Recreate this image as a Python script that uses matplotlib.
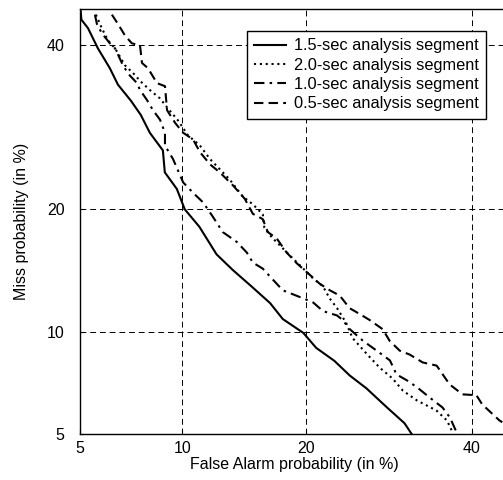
import numpy as np
import matplotlib
matplotlib.use('Agg')
from matplotlib import pyplot as plt
from statistics import NormalDist

# DET curves (false alarm % vs miss %)
fa_15 = [5.02, 5.05, 5.3, 5.69, 6.19, 6.55, 7.16, 7.65, 8.12, 8.84, 8.95, 9.66, 10.15, 11.1, 12.3,
         13.5, 15.0, 16.6, 17.75, 19.7, 21.0, 22.9, 24.6, 26.5, 28.9, 31.1, 32.0]
miss_15 = [45.0, 43.5, 42.3, 39.5, 36.8, 34.6, 32.5, 30.7, 28.5, 26.4, 23.9, 22.1, 20.0, 18.3, 15.8,
           14.5, 13.2, 11.96, 10.86, 9.97, 9.06, 8.33, 7.55, 6.92, 6.07, 5.41, 5.0]

fa_20 = [5.61, 5.85, 6.11, 6.42, 6.87, 7.35, 7.61, 8.12, 8.68, 9.14, 9.74, 10.35, 11.14, 11.83,
         12.53, 13.28, 14.3, 15.12, 15.96, 16.1, 16.76, 17.47, 18.41, 19.7, 20.7, 21.7, 22.4,
         23.2, 24.2, 24.9, 26.6, 28.06, 29.6, 30.9, 32.7, 35.2, 36.6, 37.4]
miss_20 = [44.2, 42.3, 40.6, 39.5, 37.2, 35.9, 35.1, 33.9, 32.8, 31.5, 30.0, 28.2, 26.97, 25.4,
           24.25, 23.1, 21.3, 20.5, 19.5, 18.2, 17.3, 16.6, 15.7, 14.6, 13.8, 13.2, 12.3,
           11.6, 10.6, 9.65, 8.68, 7.96, 7.41, 6.81, 6.36, 5.93, 5.52, 5.04]

fa_10 = [5.57, 5.65, 5.85, 6.19, 6.42, 6.73, 7.01, 7.46, 7.61, 7.97, 8.29, 8.68, 8.96, 8.96,
         9.43, 10.05, 10.68, 11.35, 12.04, 12.75, 13.82, 14.62, 15.12, 15.96, 16.76, 17.75,
         18.7, 19.7, 20.7, 21.7, 23.2, 23.8, 24.6, 26.1, 27.7, 29.3, 30.1, 31.4, 32.7, 34.3,
         36.0, 37.0, 38.0]
miss_10 = [44.2, 42.9, 41.6, 40.2, 39.5, 37.5, 36.1, 34.8, 33.9, 32.6, 31.3, 30.1, 28.5, 26.97,
           25.4, 22.8, 21.7, 20.7, 19.25, 17.8, 16.9, 15.96, 15.1, 14.6, 13.8, 12.9,
           12.6, 12.3, 12.0, 11.4, 11.1, 10.8, 10.2, 9.48, 8.9, 8.35, 7.61, 7.31, 6.97, 6.5,
           6.06, 5.64, 5.0]

fa_05 = [6.28, 6.55, 6.87, 7.2, 7.61, 7.71, 8.02, 8.51, 8.96, 9.08, 9.56, 10.05, 10.68, 11.14,
         11.83, 12.53, 13.51, 14.46, 15.12, 15.96, 16.4, 17.2, 18.1, 19.07, 20.07, 21.36,
         22.42, 23.49, 24.58, 25.72, 26.86, 28.42, 29.26, 30.5, 31.74, 33.42, 35.24, 36.04,
         36.96, 38.7, 40.6, 41.4, 43.8, 44.2]
miss_05 = [44.2, 42.9, 41.3, 40.2, 39.9, 37.5, 36.8, 34.8, 34.4, 31.3, 29.7, 28.5, 27.7, 26.2,
           24.8, 23.9, 22.5, 21.06, 19.55, 19.03, 17.8, 17.2, 15.96, 15.04, 14.3, 13.4,
           12.9, 12.5, 11.6, 11.2, 10.8, 10.2, 9.48, 8.9, 8.68, 8.24, 8.07, 7.61,
           7.11, 6.64, 6.6, 6.19, 5.52, 5.45]

ticks = [5, 10, 20, 40]
labels = ['1.5-sec analysis segment', '2.0-sec analysis segment',
          '1.0-sec analysis segment', '0.5-sec analysis segment']

nd = NormalDist()
_ppf = np.vectorize(lambda p: nd.inv_cdf(min(max(p / 100.0, 1e-6), 1 - 1e-6)), otypes=[float])
_cdf = np.vectorize(lambda z: nd.cdf(z) * 100.0, otypes=[float])


def probit(p):
    return _ppf(np.asarray(p, dtype=float))


def inv_probit(z):
    return _cdf(np.asarray(z, dtype=float))


plt.rcParams['font.family'] = ['Liberation Sans', 'DejaVu Sans']

fig = plt.figure(figsize=(5.03, 4.8), dpi=100)
ax = fig.add_axes([80 / 503, 46 / 480, 428 / 503, 425 / 480])
ax.set_xscale('function', functions=(probit, inv_probit))
ax.set_yscale('function', functions=(probit, inv_probit))

ax.plot(fa_15, miss_15, color='k', lw=1.5, ls='-', label=labels[0])
ax.plot(fa_20, miss_20, color='k', lw=1.5, ls=(0, (1, 1.8)), label=labels[1])
ax.plot(fa_10, miss_10, color='k', lw=1.5, ls=(0, (5, 2.5, 1.2, 2.5)), label=labels[2])
ax.plot(fa_05, miss_05, color='k', lw=1.5, ls=(0, (4.5, 2.5)), label=labels[3])

ax.set_xlim(5, 45)
ax.set_ylim(5, 45)
ax.set_xticks(ticks)
ax.set_yticks(ticks)
ax.set_xticklabels([str(t) for t in ticks])
ax.set_yticklabels([str(t) for t in ticks])
ax.minorticks_off()
ax.tick_params(direction='in', length=3, width=0.8, labelsize=11.5)
ax.tick_params(axis='x', pad=5)
ax.tick_params(axis='y', pad=11)
ax.grid(True, color='k', lw=0.7, ls=(0, (6, 4)))
for s in ax.spines.values():
    s.set_linewidth(1.0)

ax.set_xlabel('False Alarm probability (in %)', fontsize=11.5, labelpad=1)
ax.set_ylabel('Miss probability (in %)', fontsize=11.5, labelpad=13)

leg = ax.legend(loc='upper right', bbox_to_anchor=(0.9486, 0.948), fontsize=11.8,
                fancybox=False, framealpha=1, edgecolor='k', handlelength=1.9,
                borderpad=0.45, labelspacing=0.26, handletextpad=0.5, borderaxespad=0)
leg.get_frame().set_linewidth(1.0)

fig.savefig('out.png', dpi=100)
